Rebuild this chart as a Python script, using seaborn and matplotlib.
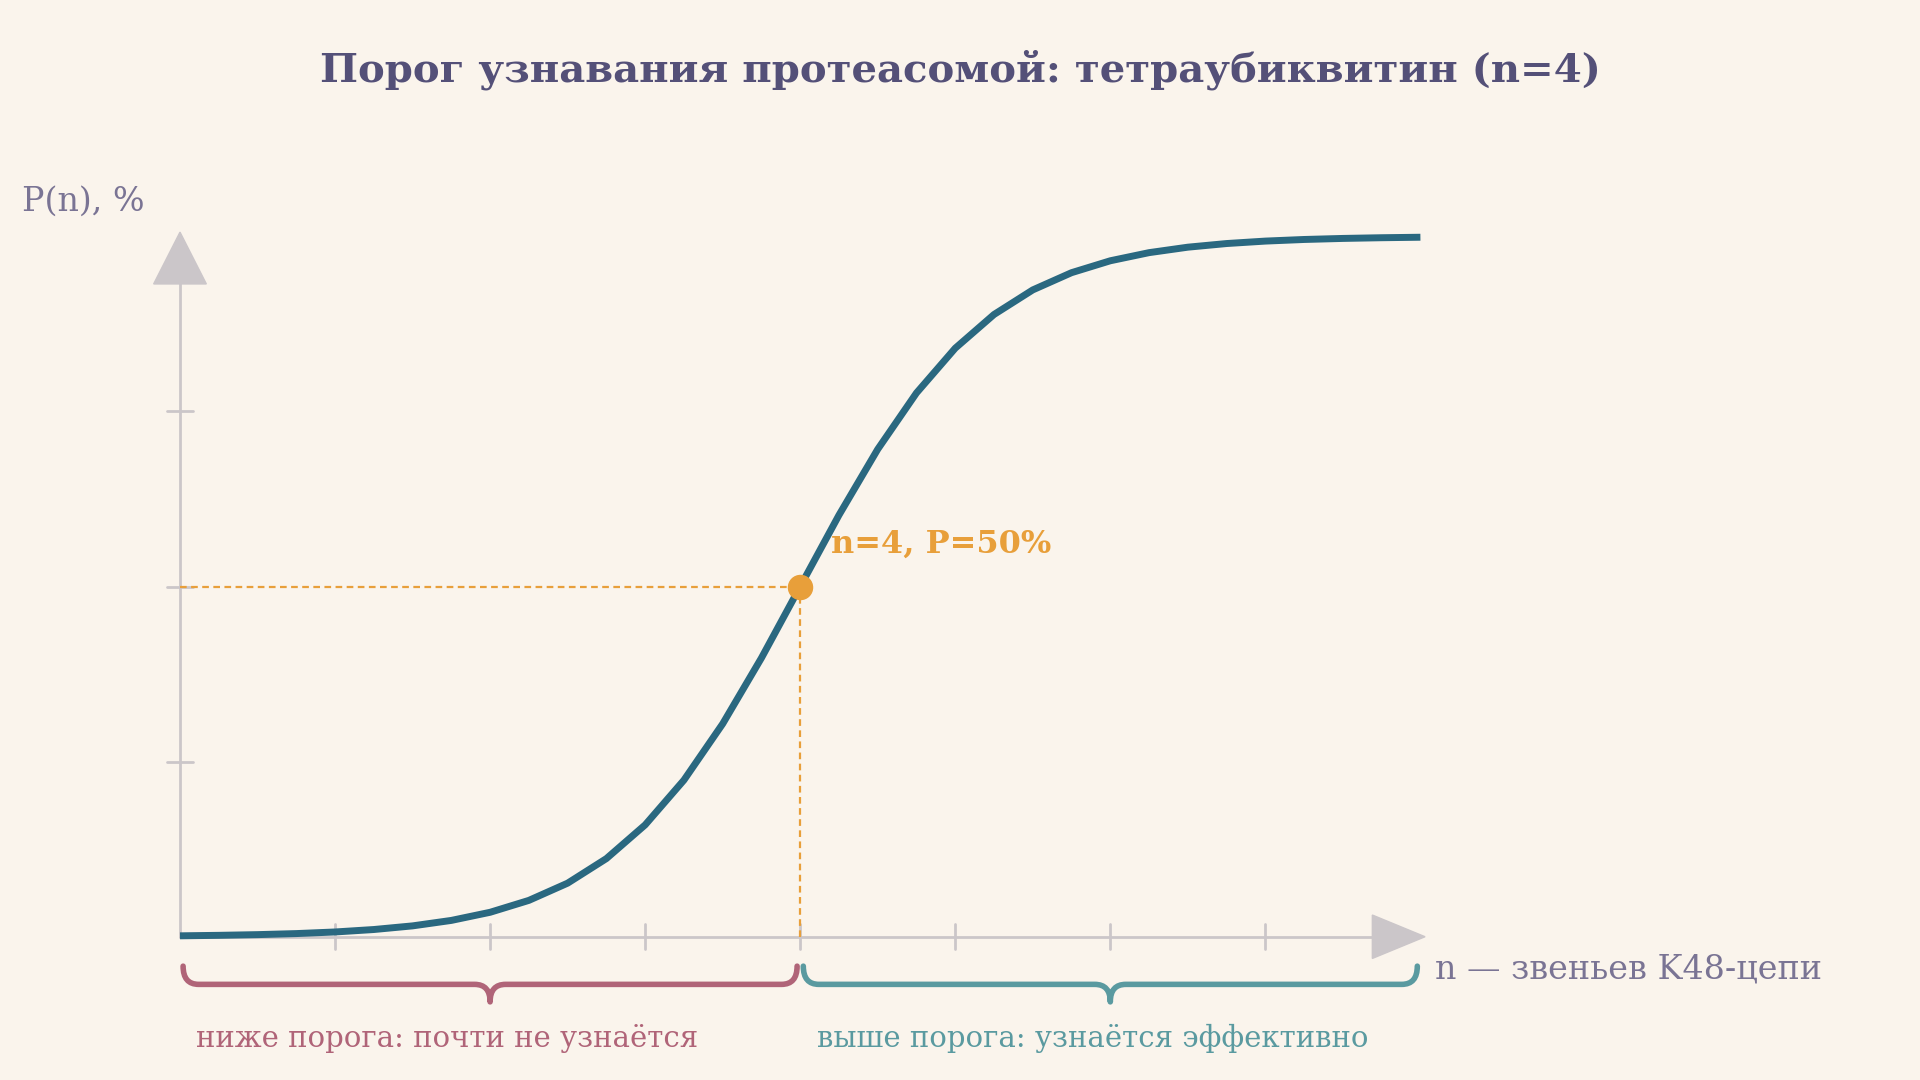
import numpy as np
import matplotlib
matplotlib.use("Agg")
import matplotlib.pyplot as plt
import seaborn as sns
import pandas as pd
from matplotlib.path import Path
from matplotlib.patches import PathPatch, Polygon

# data
n_vals = [0, 0.25, 0.5, 0.75, 1, 1.25, 1.5, 1.75, 2, 2.25, 2.5, 2.75, 3, 3.25, 3.5, 3.75, 4,
          4.25, 4.5, 4.75, 5, 5.25, 5.5, 5.75, 6, 6.25, 6.5, 6.75, 7, 7.25, 7.5, 7.75, 8]
p_vals = [0.13, 0.20, 0.30, 0.45, 0.68, 1.03, 1.55, 2.33, 3.49, 5.19, 7.65, 11.16, 15.97, 22.36, 30.4, 39.8, 50,
          60.2, 69.6, 77.64, 84.03, 88.84, 92.35, 94.81, 96.51, 97.67, 98.45, 98.97, 99.32, 99.55, 99.70, 99.80, 99.87]
x_ticks = [1, 2, 3, 4, 5, 6, 7]
y_ticks = [25, 50, 75]
thr_n, thr_p = 4, 50

BG = "#FAF4EC"; CURVE = "#2A6880"; ORANGE = "#E89F3A"; GRAY = "#CBC6C9"
RED = "#B06478"; TEAL = "#5A9AA0"; TITLE = "#545078"; LAB = "#7A7494"

sns.set_theme(style="white")
plt.rcParams['font.family'] = ['DejaVu Serif', 'DejaVu Sans']

fig = plt.figure(figsize=(19.2, 10.8), dpi=100, facecolor=BG)
W, H = 1568, 882
ax = fig.add_axes([147 / W, 1 - 765 / H, (1160 - 147) / W, (765 - 193) / H])
ax.set_facecolor(BG)
ax.set_xlim(0, 8); ax.set_ylim(0, 100)
ax.axis("off")

# axes
ax.plot([0, 7.75], [0, 0], color=GRAY, lw=2, clip_on=False, zorder=1)
ax.plot([0, 0], [0, 94], color=GRAY, lw=2, clip_on=False, zorder=1)
ax.add_patch(Polygon([[7.69, 3.1], [7.69, -3.1], [8.03, 0]], closed=True, color=GRAY, clip_on=False))
ax.add_patch(Polygon([[-0.17, 93.2], [0.17, 93.2], [0, 100.6]], closed=True, color=GRAY, clip_on=False))
for t in x_ticks:
    ax.plot([t, t], [-1.75, 1.75], color=GRAY, lw=2, clip_on=False)
for t in y_ticks:
    ax.plot([-0.085, 0.085], [t, t], color=GRAY, lw=2, clip_on=False)

# guides
ax.plot([0, thr_n], [thr_p, thr_p], color=ORANGE, lw=1.6, ls=(0, (3, 2)), zorder=2)
ax.plot([thr_n, thr_n], [0, thr_p], color=ORANGE, lw=1.6, ls=(0, (3, 2)), zorder=2)

df = pd.DataFrame({"n": n_vals, "p": p_vals})
sns.lineplot(data=df, x="n", y="p", ax=ax, color=CURVE, lw=5, zorder=3, clip_on=False,
             solid_capstyle="butt")
ax.scatter([thr_n], [thr_p], s=300, color=ORANGE, zorder=5, clip_on=False)

ax.text(4.2, 56, "n=4, P=50%", color=ORANGE, fontsize=23, fontweight="bold", va="center", ha="left")

def brace(x0, x1, color):
    mid = (x0 + x1) / 2
    top, bar, tip = -4.2, -6.8, -9.3
    verts = [(x0, top), (x0, bar), (x0 + 0.1, bar), (x0 + 0.1, bar),
             (mid - 0.1, bar), (mid - 0.1, bar), (mid, bar), (mid, tip),
             (mid, bar), (mid + 0.1, bar), (mid + 0.1, bar),
             (x1 - 0.1, bar), (x1 - 0.1, bar), (x1, bar), (x1, top)]
    codes = [Path.MOVETO, Path.CURVE3, Path.CURVE3, Path.LINETO,
             Path.LINETO, Path.LINETO, Path.CURVE3, Path.CURVE3,
             Path.CURVE3, Path.CURVE3, Path.LINETO,
             Path.LINETO, Path.LINETO, Path.CURVE3, Path.CURVE3]
    ax.add_patch(PathPatch(Path(verts, codes), fc="none", ec=color, lw=4, clip_on=False,
                           capstyle="round", joinstyle="round"))

brace(0.02, 3.98, RED)
brace(4.02, 7.98, TEAL)

fig.text(160 / W, 1 - 848 / H, "ниже порога: почти не узнаётся", color=RED, fontsize=21, va="center", ha="left")
fig.text(667 / W, 1 - 848 / H, "выше порога: узнаётся эффективно", color=TEAL, fontsize=21, va="center", ha="left")
fig.text(1172 / W, 1 - 792 / H, "n — звеньев K48-цепи", color=LAB, fontsize=24, va="center", ha="left")
fig.text(18 / W, 1 - 165 / H, "P(n), %", color=LAB, fontsize=24, va="center", ha="left")
fig.text(784 / W, 1 - 57 / H, "Порог узнавания протеасомой: тетраубиквитин (n=4)", color=TITLE,
         fontsize=29, fontweight="bold", va="center", ha="center")

fig.savefig("out.png", dpi=100, facecolor=BG)
